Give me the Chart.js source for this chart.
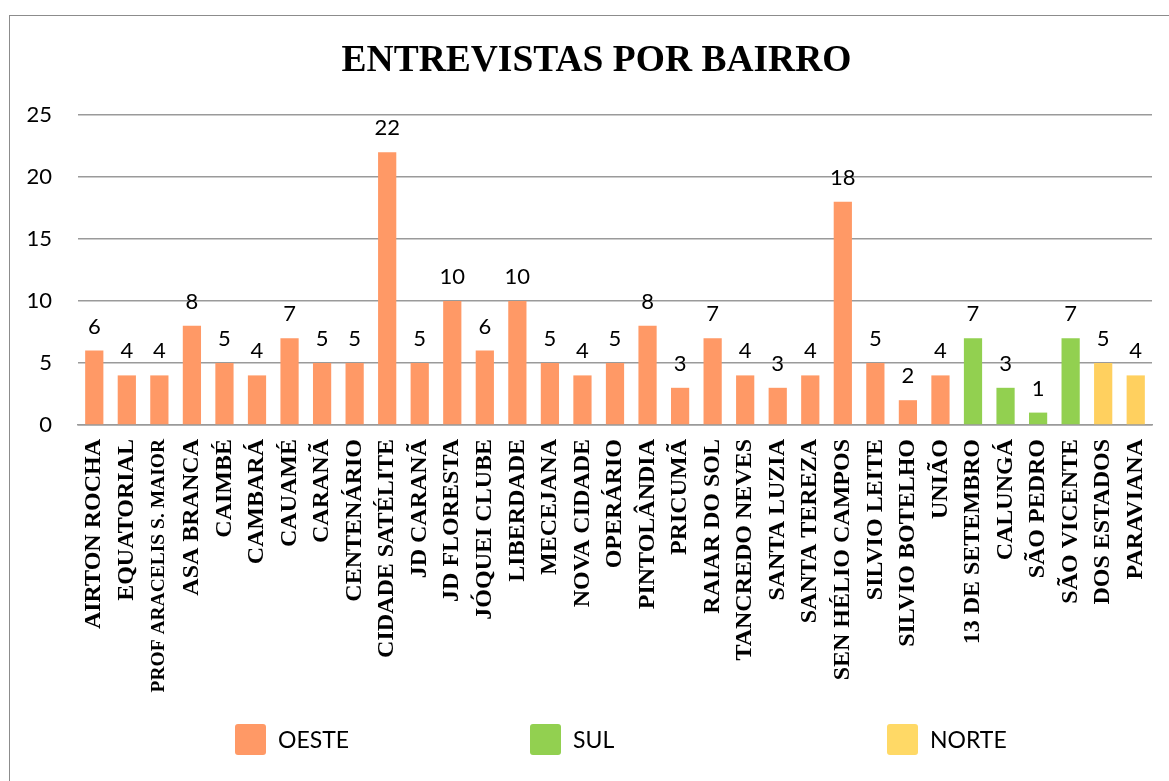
<!DOCTYPE html>
<html>
<head>
<meta charset="utf-8">
<script src="https://cdn.jsdelivr.net/npm/chart.js@4/dist/chart.umd.min.js"></script>
<style>
  body { margin: 0; background: #fff; }
  #wrap { position: relative; width: 1169px; height: 781px; overflow: hidden; }
  #frame { position: absolute; left: 9px; top: 15px; width: 1200px; height: 800px; border: 1px solid #8c8c8c; box-sizing: border-box; }
  canvas { position: absolute; left: 0; top: 0; }
  #title { position: absolute; left: 96px; width: 1001px; top: 36px; text-align: center;
           font-family: "Liberation Serif", serif; font-weight: bold; font-size: 37.5px; line-height: 45px; color: #000; }
  .leg { position: absolute; top: 724px; font-family: Lato, sans-serif; font-size: 23px; color: #000; line-height: 31px; white-space: nowrap; }
  .leg .box { display: inline-block; width: 31px; height: 31px; vertical-align: top; margin-right: 12px; border-radius: 3px; }
</style>
</head>
<body>
<div id="wrap">
  <div id="frame"></div>
  <canvas id="chart" width="1169" height="781"></canvas>
  <div id="title">ENTREVISTAS POR BAIRRO</div>
  <div class="leg" style="left:235px"><span class="box" style="background:#FF9966"></span>OESTE</div>
  <div class="leg" style="left:530px"><span class="box" style="background:#92D050"></span>SUL</div>
  <div class="leg" style="left:887px"><span class="box" style="background:#FFD966"></span>NORTE</div>
</div>
<script>
// Bairros and number of interviews
const bairros = [
    'AIRTON ROCHA', 'EQUATORIAL', 'PROF ARACELIS S. MAIOR', 'ASA BRANCA', 'CAIMBÉ',
    'CAMBARÁ', 'CAUAMÉ', 'CARANÃ', 'CENTENÁRIO', 'CIDADE SATÉLITE',
    'JD CARANÃ', 'JD FLORESTA', 'JÓQUEI CLUBE', 'LIBERDADE', 'MECEJANA',
    'NOVA CIDADE', 'OPERÁRIO', 'PINTOLÂNDIA', 'PRICUMÃ', 'RAIAR DO SOL',
    'TANCREDO NEVES', 'SANTA LUZIA', 'SANTA TEREZA', 'SEN HÉLIO CAMPOS', 'SILVIO LEITE',
    'SILVIO BOTELHO', 'UNIÃO', '13 DE SETEMBRO', 'CALUNGÁ', 'SÃO PEDRO',
    'SÃO VICENTE', 'DOS ESTADOS', 'PARAVIANA'
];
const entrevistas = [
    6, 4, 4, 8, 5,
    4, 7, 5, 5, 22,
    5, 10, 6, 10, 5,
    4, 5, 8, 3, 7,
    4, 3, 4, 18, 5,
    2, 4, 7, 3, 1,
    7, 5, 4
];
const regioes = [
    'OESTE', 'OESTE', 'OESTE', 'OESTE', 'OESTE',
    'OESTE', 'OESTE', 'OESTE', 'OESTE', 'OESTE',
    'OESTE', 'OESTE', 'OESTE', 'OESTE', 'OESTE',
    'OESTE', 'OESTE', 'OESTE', 'OESTE', 'OESTE',
    'OESTE', 'OESTE', 'OESTE', 'OESTE', 'OESTE',
    'OESTE', 'OESTE', 'SUL', 'SUL', 'SUL',
    'SUL', 'NORTE', 'NORTE'
];
const yTicks = [0, 5, 10, 15, 20, 25];

const cores = { OESTE: '#FF9966', SUL: '#92D050', NORTE: '#FFD05F' };

// value labels above each bar
const valueLabels = {
    id: 'valueLabels',
    afterDatasetsDraw(chart) {
        const ctx = chart.ctx;
        const meta = chart.getDatasetMeta(0);
        ctx.save();
        ctx.font = '22px Lato, sans-serif';
        ctx.fillStyle = '#000';
        ctx.textAlign = 'center';
        ctx.textBaseline = 'alphabetic';
        meta.data.forEach((bar, i) => {
            ctx.fillText(entrevistas[i], bar.x, bar.y - 17);
        });
        ctx.restore();
    }
};

new Chart(document.getElementById('chart'), {
    type: 'bar',
    data: {
        labels: bairros,
        datasets: [{
            label: 'Entrevistas',
            data: entrevistas,
            backgroundColor: regioes.map(r => cores[r]),
            borderWidth: 0,
            categoryPercentage: 1,
            barPercentage: 0.56
        }]
    },
    options: {
        responsive: false,
        animation: false,
        layout: { padding: { left: 0, right: 17, top: 115, bottom: 0 } },
        plugins: {
            legend: { display: false },
            tooltip: { enabled: false },
            title: { display: false }
        },
        scales: {
            x: {
                grid: { display: false, drawTicks: false },
                border: { color: '#9a9a9a', width: 1.5 },
                ticks: {
                    autoSkip: false,
                    minRotation: 90,
                    maxRotation: 90,
                    padding: 14,
                    color: '#000',
                    font: (c) => ({
                        family: '"Liberation Serif", serif',
                        weight: 'bold',
                        size: c.index === 2 ? 19.5 : 24
                    })
                },
                afterFit(scale) {
                    scale.height = 356;
                    scale.paddingLeft = 0;
                    scale.paddingRight = 0;
                }
            },
            y: {
                min: 0,
                max: 25,
                afterBuildTicks(scale) { scale.ticks = yTicks.map(v => ({ value: v })); },
                grid: { color: '#9a9a9a', lineWidth: 1.5, drawTicks: false },
                border: { display: false },
                ticks: {
                    padding: 26,
                    color: '#000',
                    font: { family: 'Lato, sans-serif', size: 22 }
                },
                afterFit(scale) { scale.width = 78; }
            }
        }
    },
    plugins: [valueLabels]
});
</script>
</body>
</html>
